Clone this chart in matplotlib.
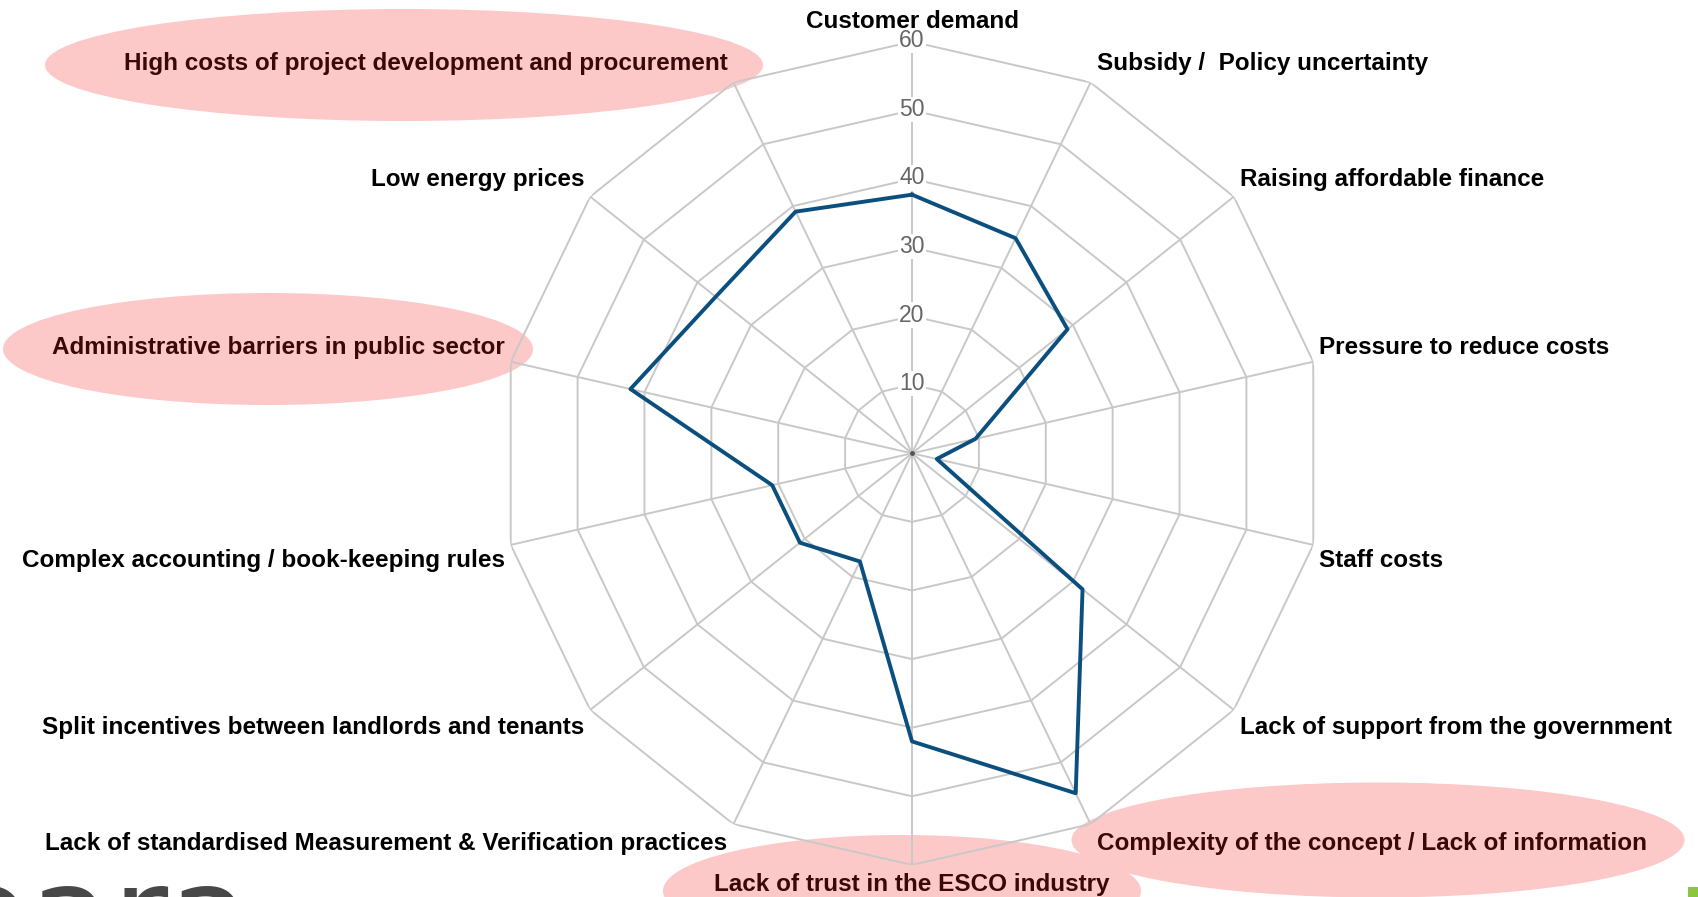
import numpy as np
import matplotlib
matplotlib.use("Agg")
import matplotlib.pyplot as plt
from matplotlib.patches import Ellipse, Rectangle
from matplotlib import font_manager

# categories clockwise from the top
categories = [
    "Customer demand",
    "Subsidy /  Policy uncertainty",
    "Raising affordable finance",
    "Pressure to reduce costs",
    "Staff costs",
    "Lack of support from the government",
    "Complexity of the concept / Lack of information",
    "Lack of trust in the ESCO industry",
    "Lack of standardised Measurement & Verification practices",
    "Split incentives between landlords and tenants",
    "Complex accounting / book-keeping rules",
    "Administrative barriers in public sector",
    "Low energy prices",
    "High costs of project development and procurement",
]
values = [37.7, 34.8, 29.0, 9.5, 3.7, 31.8, 55.0, 42.0, 17.5, 20.9, 20.9, 42.1, 36.6, 39.1]
rticks = [10, 20, 30, 40, 50, 60]
highlighted = [
    "High costs of project development and procurement",
    "Administrative barriers in public sector",
    "Complexity of the concept / Lack of information",
    "Lack of trust in the ESCO industry",
]
narrow_labels = [
    "High costs of project development and procurement",
    "Complexity of the concept / Lack of information",
]

names = {f.name for f in font_manager.fontManager.ttflist}
NARROW = "Liberation Sans Narrow" if "Liberation Sans Narrow" in names else "Liberation Sans"
plt.rcParams["font.family"] = ["Liberation Sans", "DejaVu Sans"]

W, H = 1698, 897
fig = plt.figure(figsize=(W / 100, H / 100), dpi=100)

# background layer (pixel coords) for the pink highlight ellipses, logo etc.
bg = fig.add_axes([0, 0, 1, 1], zorder=0)
bg.set_xlim(0, W); bg.set_ylim(H, 0); bg.axis("off")
pink = "#fdc8c8"
for (x, y, w, h) in [(404, 65, 718, 112), (268, 349, 530, 112),
                     (1378, 840, 613, 115), (902, 891, 478, 112)]:
    bg.add_patch(Ellipse((x, y), w, h, color=pink, lw=0))
bg.text(-55, 962, "eara", fontsize=98, color="#484848", family="DejaVu Sans",
        ha="left", va="baseline")
bg.add_patch(Rectangle((1688, 887), 12, 12, color="#8cc63f", lw=0))

# radar
cx, cy, R = 912, 453.3, 411.6
ax = fig.add_axes([(cx - R) / W, 1 - (cy + R) / H, 2 * R / W, 2 * R / H],
                  projection="polar", zorder=1)
ax.patch.set_alpha(0)
ax.set_theta_zero_location("N")
ax.set_theta_direction(-1)
ax.set_ylim(0, 60)
ax.grid(False)
ax.spines["polar"].set_visible(False)
ax.set_xticks([]); ax.set_yticks([])

n = len(categories)
theta = np.arange(n) * 2 * np.pi / n
closed = np.append(theta, theta[0])
grid_c = "#c8c8c8"
for r in rticks:
    ax.plot(closed, [r] * (n + 1), color=grid_c, lw=1.4, zorder=1)
for th in theta:
    ax.plot([th, th], [0, 60], color=grid_c, lw=1.4, zorder=1)
ax.plot([0], [0], "o", color="#555555", ms=2.5, zorder=2)

ax.plot(closed, values + values[:1], color="#0b4f7e", lw=2.8, zorder=3)

for r in rticks:
    ax.annotate(str(r), xy=(0, r), xytext=(0, 2.5), textcoords="offset points",
                ha="center", va="center_baseline", fontsize=16.5, color="#666666", zorder=4,
                bbox=dict(boxstyle="square,pad=0.05", fc="white", ec="none"))

for cat, th in zip(categories, theta):
    s, c = np.sin(th), np.cos(th)
    if abs(s) < 0.01:
        ha, dx = "center", 0
    else:
        ha, dx = ("left", 6) if s > 0 else ("right", -6)
    dy = (13 + 7 * abs(c)) if c > 0 else -(14 + 6 * abs(c))
    hl = cat in highlighted
    fam = NARROW if cat in narrow_labels else "Liberation Sans"
    ax.annotate(cat, xy=(th, 60), xytext=(dx * 0.72, dy * 0.72), textcoords="offset points",
                ha=ha, va="center", fontsize=17.5, fontweight="bold", family=fam,
                color="#3a0808" if hl else "black", zorder=5, annotation_clip=False)

fig.savefig("out.png", dpi=100)
